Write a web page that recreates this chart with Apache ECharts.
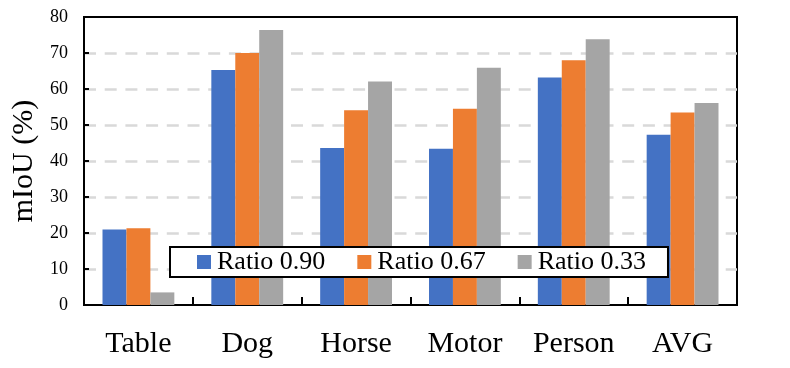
<!DOCTYPE html>
<html>
<head>
<meta charset="utf-8">
<script src="https://cdn.jsdelivr.net/npm/echarts@6/dist/echarts.min.js"></script>
<style>
html, body { margin: 0; padding: 0; background: #fff; }
#c1 { width: 790px; height: 368px; }
</style>
</head>
<body>
<div id="c1"></div>
<script>
var categories = ['Table', 'Dog', 'Horse', 'Motor', 'Person', 'AVG']
var ratio090 = [21.0, 65.3, 43.6, 43.4, 63.2, 47.3]
var ratio067 = [21.3, 70.0, 54.1, 54.5, 68.0, 53.5]
var ratio033 = [3.5, 76.4, 62.1, 65.9, 73.8, 56.1]
var yTicks = [0, 10, 20, 30, 40, 50, 60, 70, 80]

var serif = '"Liberation Serif", "Times New Roman", serif'

function bar(name, data, color) {
    return {
        name: name,
        type: 'bar',
        data: data,
        barGap: '0%',
        barCategoryGap: '34%',
        itemStyle: { color: color },
        z: 2
    }
}

var myChart = echarts.init(document.getElementById('c1'))
myChart.setOption({
    backgroundColor: '#fff',
    animation: false,
    textStyle: { fontFamily: serif },
    grid: {
        left: 84, right: 53, top: 17, bottom: 63,
        show: true, borderColor: '#000', borderWidth: 2,
        backgroundColor: 'transparent'
    },
    legend: {
        left: 170, top: 247,
        padding: [2, 22, 2, 27],
        itemWidth: 14, itemHeight: 14,
        itemGap: 32,
        backgroundColor: '#fff',
        borderColor: '#000', borderWidth: 2,
        icon: 'rect',
        textStyle: { fontFamily: serif, fontSize: 26, color: '#000', padding: [0, 0, 0, 1] },
        data: ['Ratio 0.90', 'Ratio 0.67', 'Ratio 0.33']
    },
    xAxis: {
        type: 'category',
        data: categories,
        axisLine: { lineStyle: { color: '#000', width: 2 } },
        axisTick: { show: true, inside: true, length: 8, lineStyle: { color: '#000', width: 2 } },
        axisLabel: { fontFamily: serif, fontSize: 30, color: '#000', margin: 24 },
        splitLine: { show: false }
    },
    yAxis: {
        type: 'value',
        min: yTicks[0], max: yTicks[yTicks.length - 1], interval: 10,
        name: 'mIoU (%)',
        nameLocation: 'middle',
        nameGap: 36,
        nameTextStyle: { fontFamily: serif, fontSize: 30, color: '#000' },
        axisLine: { show: true, lineStyle: { color: '#000', width: 2 } },
        axisTick: { show: true, inside: true, length: 5, lineStyle: { color: '#000', width: 2 } },
        axisLabel: { fontFamily: serif, fontSize: 18, color: '#000', margin: 16 },
        splitLine: {
            show: true, showMinLine: false, showMaxLine: false,
            lineStyle: { color: '#d9d9d9', width: 2.5, type: [12, 8.7] }
        }
    },
    series: [
        bar('Ratio 0.90', ratio090, '#4472C4'),
        bar('Ratio 0.67', ratio067, '#ED7D31'),
        bar('Ratio 0.33', ratio033, '#A5A5A5')
    ]
})
</script>
</body>
</html>
